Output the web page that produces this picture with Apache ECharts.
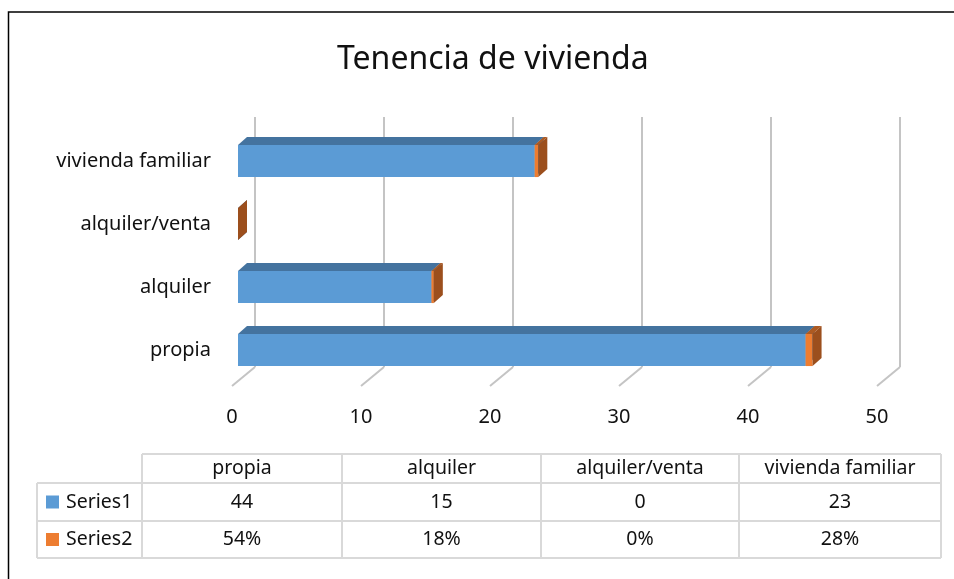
<!DOCTYPE html>
<html>
<head>
  <meta charset="UTF-8">
  <title>Tenencia de vivienda</title>
  <style>
  body {
    margin: 0;
    background: #fff;
  }
  #chart {
    width: 954px;
    height: 579px;
  }
  </style>
  <script src="https://cdn.jsdelivr.net/npm/echarts@6/dist/echarts.min.js"></script>
</head>
<body>
  <div id="chart"></div>
  <script type="text/javascript">
  // data
  var categories = ['propia', 'alquiler', 'alquiler/venta', 'vivienda familiar'];
  var series1 = [44, 15, 0, 23];
  var series2Pct = [54, 18, 0, 28];
  var seriesNames = ['Series1', 'Series2'];
  var xTicks = [0, 10, 20, 30, 40, 50];

  var FONT = '"Noto Sans", sans-serif';
  // 3d offsets (pixels)
  var BAR_DX = 9, BAR_DY = 8;
  var FLOOR_DX = 23, FLOOR_DY = 19;

  var myChart = echarts.init(document.getElementById('chart'));

  function boxRender(front, top, side) {
    return function (params, api) {
      var start = api.value(0), end = api.value(1), cat = api.value(2);
      var p0 = api.coord([start, cat]);
      var p1 = api.coord([end, cat]);
      var h = api.size([0, 1])[1] * 0.51;
      var x0 = p0[0], x1 = p1[0];
      var yT = p0[1] - h / 2, yB = p0[1] + h / 2;
      return {
        type: 'group',
        children: [{
          type: 'rect',
          shape: { x: x0, y: yT, width: x1 - x0, height: h },
          style: { fill: front }
        }, {
          type: 'polygon',
          shape: { points: [[x0, yT], [x0 + BAR_DX, yT - BAR_DY], [x1 + BAR_DX, yT - BAR_DY], [x1, yT]] },
          style: { fill: top }
        }, {
          type: 'polygon',
          shape: { points: [[x1, yT], [x1 + BAR_DX, yT - BAR_DY], [x1 + BAR_DX, yB - BAR_DY], [x1, yB]] },
          style: { fill: side }
        }]
      };
    };
  }

  var s1Data = [], s2Data = [];
  for (var i = 0; i < categories.length; i++) {
    s1Data.push([0, series1[i], i]);
    s2Data.push([series1[i], series1[i] + series2Pct[i] / 100, i]);
  }

  // data table below the plot
  var colX = [142, 342, 541, 739, 941];
  var rowY = [454, 483, 521, 558];
  var legendLeft = 37;
  var lineColor = '#d9d9d9';
  var swatch = ['#5b9bd5', '#ed7d31'];
  var tableEls = [];
  function hline(x1, x2, y) {
    tableEls.push({ type: 'line', shape: { x1: x1, y1: y, x2: x2, y2: y }, style: { stroke: lineColor, lineWidth: 2 } });
  }
  function vline(x, y1, y2) {
    tableEls.push({ type: 'line', shape: { x1: x, y1: y1, x2: x, y2: y2 }, style: { stroke: lineColor, lineWidth: 2 } });
  }
  hline(colX[0], colX[4], rowY[0]);
  hline(legendLeft, colX[4], rowY[1]);
  hline(legendLeft, colX[4], rowY[2]);
  hline(legendLeft, colX[4], rowY[3]);
  vline(legendLeft, rowY[1], rowY[3]);
  for (var c = 0; c < colX.length; c++) vline(colX[c], rowY[0], rowY[3]);
  function cellText(str, x, y, align) {
    tableEls.push({
      type: 'text',
      style: { text: str, x: x, y: y, align: align || 'center', verticalAlign: 'middle', fill: '#111', font: '19.5px ' + FONT }
    });
  }
  for (var k = 0; k < categories.length; k++) {
    var cx = (colX[k] + colX[k + 1]) / 2;
    cellText(categories[k], cx, (rowY[0] + rowY[1]) / 2);
    cellText(String(series1[k]), cx, (rowY[1] + rowY[2]) / 2);
    cellText(series2Pct[k] + '%', cx, (rowY[2] + rowY[3]) / 2);
  }
  for (var r = 0; r < 2; r++) {
    var cy = (rowY[r + 1] + rowY[r + 2]) / 2;
    tableEls.push({ type: 'rect', shape: { x: 46, y: cy - 6.5, width: 13, height: 13 }, style: { fill: swatch[r] } });
    cellText(seriesNames[r], 66, cy, 'left');
  }

  var option = {
    animation: false,
    backgroundColor: '#fff',
    title: {
      text: 'Tenencia de vivienda',
      left: 332,
      top: 39,
      textStyle: { fontFamily: FONT, fontSize: 32, fontWeight: 'normal', color: '#111' }
    },
    graphic: [{
      type: 'rect',
      shape: { x: 8.5, y: 12, width: 1200, height: 800 },
      style: { fill: null, stroke: '#000', lineWidth: 1.5 },
      silent: true
    }, {
      type: 'group',
      children: tableEls
    }],
    grid: [
      // back wall (grid lines)
      { left: 255, width: 645, top: 117, height: 250 },
      // front floor edge (tick labels)
      { left: 232, width: 645, top: 130, height: 256 },
      // bars front plane
      { left: 238, width: 645, top: 129.5, height: 252 }
    ],
    xAxis: [{
      gridIndex: 0, type: 'value', min: 0, max: 50, interval: 10,
      axisLine: { show: false }, axisTick: { show: false }, axisLabel: { show: false },
      splitLine: { show: true, lineStyle: { color: '#c4c4c4', width: 2 } }
    }, {
      gridIndex: 1, type: 'value', min: 0, max: 50, interval: 10,
      axisLine: { show: false }, axisTick: { show: false }, splitLine: { show: false },
      axisLabel: { margin: 21, fontFamily: FONT, fontSize: 20, color: '#111' }
    }, {
      gridIndex: 2, type: 'value', min: 0, max: 50, show: false
    }],
    yAxis: [{
      gridIndex: 0, type: 'value', min: 0, max: 1, show: false
    }, {
      gridIndex: 1, type: 'value', min: 0, max: 1, show: false
    }, {
      gridIndex: 2, type: 'category', data: categories,
      axisLine: { show: false }, axisTick: { show: false }, splitLine: { show: false },
      axisLabel: { margin: 27, fontFamily: FONT, fontSize: 20, color: '#111' }
    }],
    series: [{
      name: 'floor',
      type: 'custom',
      xAxisIndex: 0, yAxisIndex: 0,
      silent: true,
      data: xTicks.map(function (t) { return [t, 0]; }),
      renderItem: function (params, api) {
        var p = api.coord([api.value(0), 0]);
        return {
          type: 'line',
          shape: { x1: p[0], y1: p[1], x2: p[0] - FLOOR_DX, y2: p[1] + FLOOR_DY },
          style: { stroke: '#c4c4c4', lineWidth: 2 }
        };
      }
    }, {
      name: seriesNames[0],
      type: 'custom',
      xAxisIndex: 2, yAxisIndex: 2,
      data: s1Data,
      renderItem: boxRender('#5b9bd5', '#44739f', '#44739f')
    }, {
      name: seriesNames[1],
      type: 'custom',
      xAxisIndex: 2, yAxisIndex: 2,
      data: s2Data,
      renderItem: boxRender('#ed7d31', '#ad5a22', '#9c4f1d')
    }]
  };

  myChart.setOption(option);
  </script>
</body>
</html>
